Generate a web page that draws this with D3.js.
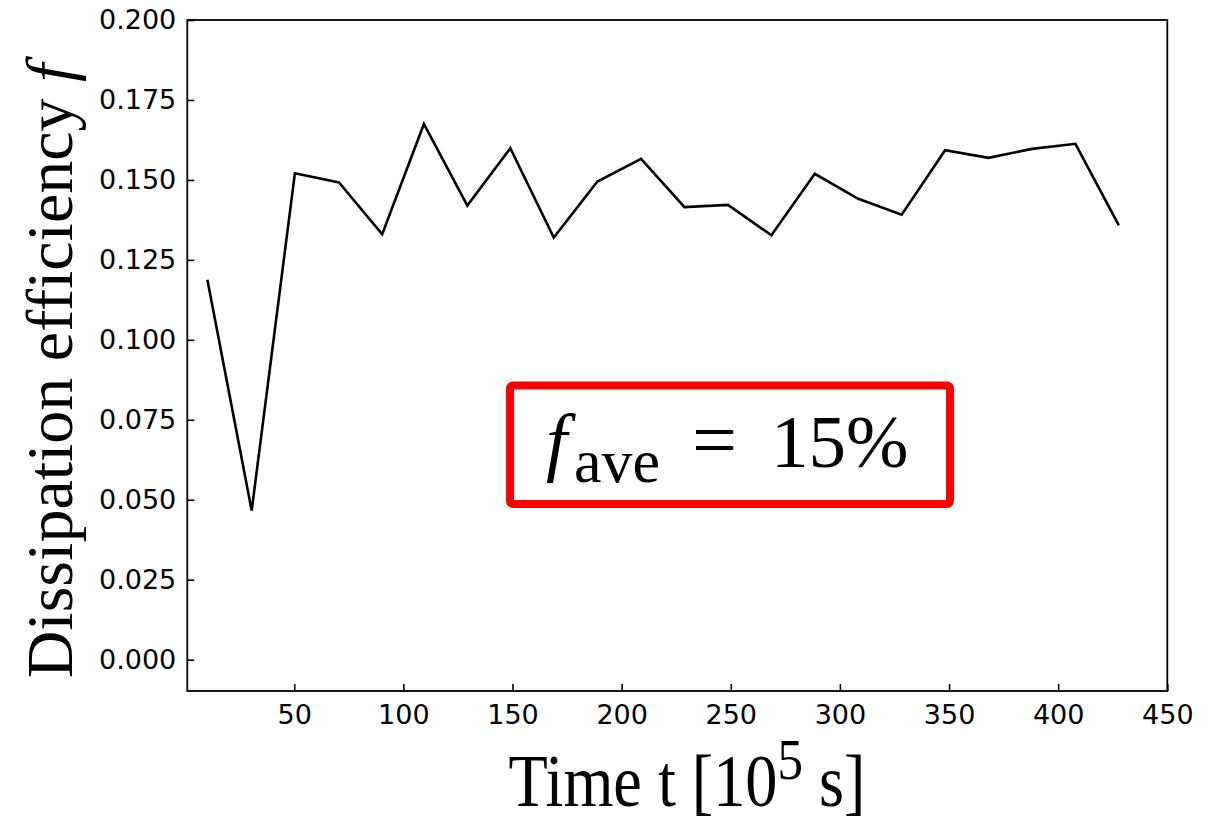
<!DOCTYPE html>
<html>
<head>
<meta charset="utf-8">
<script src="https://cdn.jsdelivr.net/npm/d3@7"></script>
<style>
  html, body { margin: 0; padding: 0; background: #fff; }
  svg { display: block; }
</style>
</head>
<body>
<svg id="chart" width="1219" height="824"></svg>
<script>
// Time samples [10^5 s] and dissipation efficiency per sample
const times = [10.2, 30.5, 50.3, 70.5, 90.3, 109.4, 129.3, 149.0, 168.9, 188.9, 208.9,
               228.8, 248.7, 268.6, 288.5, 308.4, 328.3, 348.2, 368.1, 388.0, 407.9, 427.8];
const efficiency = [0.1188, 0.0466, 0.1521, 0.1492, 0.1330, 0.1675, 0.1420, 0.1599, 0.1320, 0.1495, 0.1566,
                    0.1415, 0.1422, 0.1327, 0.1519, 0.1441, 0.1391, 0.1593, 0.1569, 0.1597, 0.1613, 0.1358];
const xTicks = [50, 100, 150, 200, 250, 300, 350, 400, 450];
const yTicks = [0.000, 0.025, 0.050, 0.075, 0.100, 0.125, 0.150, 0.175, 0.200];
const averageLabel = { symbol: "f", sub: "ave", eq: "=", value: "15%" };

const svg = d3.select("#chart");
const plot = { left: 187.3, right: 1167.3, top: 20, bottom: 691 };

const x = d3.scaleLinear().domain([1, 450]).range([plot.left, plot.right]);
const y = d3.scaleLinear().domain([-0.0098, 0.200]).range([plot.bottom, plot.top]);

const tickFont = "DejaVu Sans, sans-serif";

// x axis: ticks pointing inward
const xAxis = svg.append("g")
  .attr("transform", `translate(0,${plot.bottom})`)
  .call(d3.axisBottom(x).tickValues(xTicks).tickSizeInner(-7).tickSizeOuter(0).tickPadding(14).tickFormat(d3.format("d")));
xAxis.select(".domain").remove();
xAxis.selectAll(".tick line").attr("stroke", "#000").attr("stroke-width", 1.6);
xAxis.selectAll(".tick text").attr("font-family", tickFont).attr("font-size", 27).attr("fill", "#000");

// y axis: ticks pointing inward
const yAxis = svg.append("g")
  .attr("transform", `translate(${plot.left},0)`)
  .call(d3.axisLeft(y).tickValues(yTicks).tickSizeInner(-7).tickSizeOuter(0).tickPadding(11).tickFormat(d3.format(".3f")));
yAxis.select(".domain").remove();
yAxis.selectAll(".tick line").attr("stroke", "#000").attr("stroke-width", 1.6);
yAxis.selectAll(".tick text").attr("font-family", tickFont).attr("font-size", 27).attr("fill", "#000");

// frame
svg.append("rect")
  .attr("x", plot.left).attr("y", plot.top)
  .attr("width", plot.right - plot.left).attr("height", plot.bottom - plot.top)
  .attr("fill", "none").attr("stroke", "#000").attr("stroke-width", 1.8);

// efficiency series
const series = times.map((t, i) => ({ t, f: efficiency[i] }));
svg.append("path")
  .datum(series)
  .attr("fill", "none")
  .attr("stroke", "#000")
  .attr("stroke-width", 2.6)
  .attr("stroke-linejoin", "miter")
  .attr("d", d3.line().x(d => x(d.t)).y(d => y(d.f)));

// axis titles
const serif = "Liberation Serif, Times New Roman, serif";
const xTitle = svg.append("text")
  .attr("transform", "translate(687,806) scale(0.88,1)")
  .attr("text-anchor", "middle")
  .attr("font-family", serif)
  .attr("font-size", 73)
  .attr("fill", "#000");
xTitle.append("tspan").text("Time t [10");
xTitle.append("tspan").attr("font-size", 58).attr("dy", -27).text("5");
xTitle.append("tspan").attr("dy", 27).text(" s]");

const yTitle = svg.append("text")
  .attr("transform", "translate(72,371) rotate(-90)")
  .attr("text-anchor", "middle")
  .attr("font-family", serif)
  .attr("font-size", 66)
  .attr("fill", "#000");
yTitle.append("tspan").text("Dissipation efficiency ");
yTitle.append("tspan").attr("font-style", "italic").text("f");

// average annotation box
const box = svg.append("g");
box.append("rect")
  .attr("x", 510).attr("y", 385.5)
  .attr("width", 440).attr("height", 118.5)
  .attr("rx", 3)
  .attr("fill", "#fff")
  .attr("stroke", "#ff0000")
  .attr("stroke-width", 8);
const ann = box.append("text")
  .attr("font-family", serif)
  .attr("fill", "#000");
ann.append("tspan").attr("x", 546).attr("y", 466.7).attr("font-size", 76).attr("font-style", "italic").text(averageLabel.symbol);
ann.append("tspan").attr("x", 574).attr("y", 481.7).attr("font-size", 62).text(averageLabel.sub);
ann.append("tspan").attr("x", 692).attr("y", 466.7).attr("font-size", 80).text(averageLabel.eq);
ann.append("tspan").attr("x", 771).attr("y", 466.7).attr("font-size", 75).text(averageLabel.value);
</script>
</body>
</html>
